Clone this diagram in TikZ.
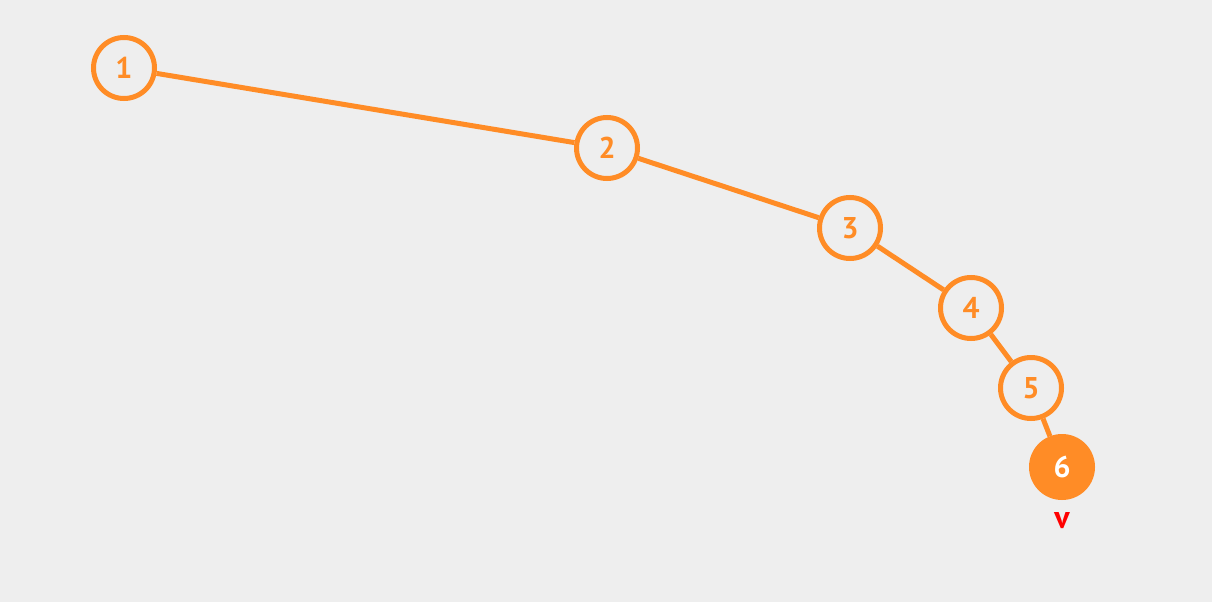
\documentclass[tikz,border=0pt]{standalone}
\usepackage{fontspec}
\setmainfont{PT Sans}
\definecolor{bg}{HTML}{EEEEEE}
\definecolor{org}{HTML}{FF8C26}
\definecolor{lblred}{HTML}{FF0000}
\begin{document}
\begin{tikzpicture}[x=1pt,y=-1pt,
  vnode/.style={circle,draw=org,line width=5pt,fill=bg,minimum size=61pt,inner sep=0pt,text=org,font=\fontsize{30}{30}\selectfont\bfseries},
  vcur/.style={circle,draw=org,line width=5pt,fill=org,minimum size=61pt,inner sep=0pt,text=white,font=\fontsize{30}{30}\selectfont\bfseries},
  edge/.style={draw=org,line width=5pt}]
\fill[bg] (0,0) rectangle (1212,602);
\useasboundingbox (0,0) rectangle (1212,602);
\node[vnode] (n1) at (124,68) {1};
\node[vnode] (n2) at (607,148) {2};
\node[vnode] (n3) at (850,228) {3};
\node[vnode] (n4) at (971,308) {4};
\node[vnode] (n5) at (1031,388) {5};
\node[vcur] (n6) at (1062,467) {6};
\draw[edge] (n1) -- (n2);
\draw[edge] (n2) -- (n3);
\draw[edge] (n3) -- (n4);
\draw[edge] (n4) -- (n5);
\draw[edge] (n5) -- (n6);
\node[text=lblred,font=\fontsize{32}{32}\selectfont\bfseries] (lv) at (1062,521) {v};
\end{tikzpicture}
\end{document}
